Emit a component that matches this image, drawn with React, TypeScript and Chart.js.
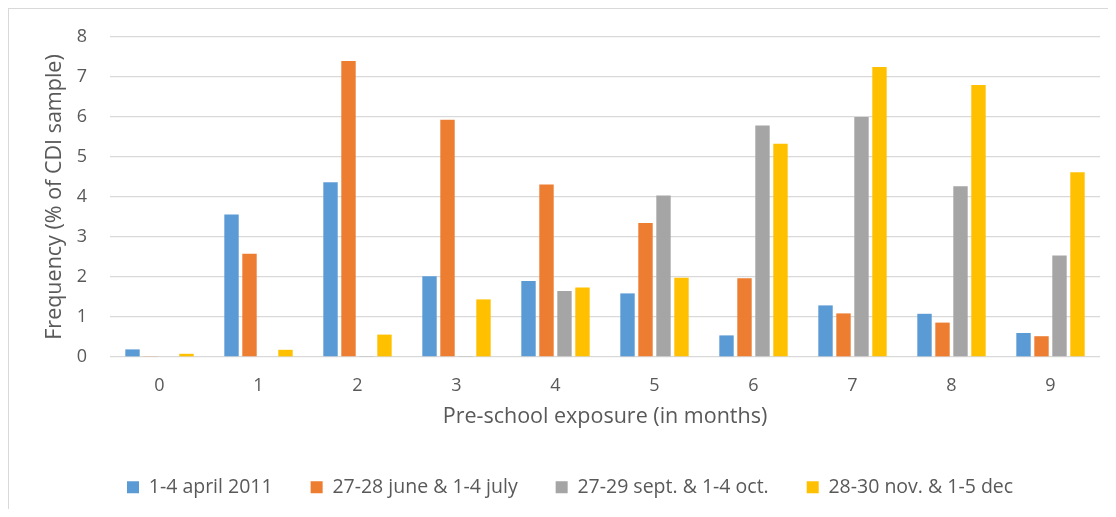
import React, { useEffect, useRef } from "react";
import { Chart, registerables } from "chart.js";

Chart.register(...registerables);

const categories = ["0", "1", "2", "3", "4", "5", "6", "7", "8", "9"];
const april2011 = [0.19, 3.56, 4.37, 2.02, 1.9, 1.59, 0.54, 1.29, 1.08, 0.6];
const juneJuly = [0.02, 2.58, 7.4, 5.93, 4.31, 3.35, 1.97, 1.09, 0.86, 0.52];
const septOct = [0, 0, 0.01, 0.01, 1.65, 4.04, 5.79, 6.0, 4.27, 2.54];
const novDec = [0.08, 0.18, 0.56, 1.44, 1.74, 1.98, 5.33, 7.25, 6.8, 4.62];
const seriesLabels = [
  "1-4 april 2011",
  "27-28 june & 1-4 july",
  "27-29 sept. & 1-4 oct.",
  "28-30 nov. & 1-5 dec",
];
const seriesColors = ["#5B9BD5", "#ED7D31", "#A5A5A5", "#FFC000"];

const FONT = "'Open Sans', sans-serif";
const TEXT = "#595959";

const legendShift = {
  id: "legendShift",
  afterLayout(chart: any) {
    const l = chart.legend;
    if (!l) return;
    const dx = 80;
    l.left += dx;
    l.right += dx;
  },
};

export default function App() {
  const ref = useRef<HTMLCanvasElement | null>(null);
  useEffect(() => {
    if (!ref.current) return;
    const values = [april2011, juneJuly, septOct, novDec];
    const chart = new Chart(ref.current, {
      type: "bar",
      data: {
        labels: categories,
        datasets: values.map((v, i) => ({
          label: seriesLabels[i],
          data: v,
          backgroundColor: seriesColors[i],
          borderWidth: 0,
          categoryPercentage: 0.727,
          barPercentage: 0.8,
        })),
      },
      plugins: [legendShift],
      options: {
        animation: false,
        responsive: false,
        maintainAspectRatio: false,
        layout: { padding: { top: 28, right: 8, bottom: 2, left: 0 } },
        plugins: {
          tooltip: { enabled: false },
          legend: {
            position: "bottom",
            align: "start",
            labels: {
              boxWidth: 12,
              boxHeight: 12,
              padding: 38,
              color: TEXT,
              font: { family: FONT, size: 19.5 },
            },
          },
        },
        scales: {
          x: {
            grid: { display: false },
            border: { display: false },
            ticks: {
              color: TEXT,
              padding: 10.5,
              font: { family: FONT, size: 18 },
            },
            title: {
              display: true,
              text: "Pre-school exposure (in months)",
              color: TEXT,
              font: { family: FONT, size: 21.5 },
              padding: { top: 0, bottom: 9.6 },
            },
            afterFit(scale: any) {
              scale.height = 82.5;
            },
          },
          y: {
            min: 0,
            max: 8,
            grid: { color: "#D9D9D9", lineWidth: 1.3, drawTicks: false },
            border: { display: false },
            ticks: {
              stepSize: 1,
              color: TEXT,
              padding: 23,
              font: { family: FONT, size: 18 },
            },
            title: {
              display: true,
              text: "Frequency (% of CDI sample)",
              color: TEXT,
              font: { family: FONT, size: 21.5 },
              padding: { top: 33, bottom: 0 },
            },
            afterFit(scale: any) {
              scale.width = 101;
              scale.paddingTop = 0;
              scale.paddingBottom = 0;
            },
          },
        },
      },
    });
    return () => chart.destroy();
  }, []);
  return (
    <div
      style={{
        height: 500,
        borderLeft: "1px solid #D9D9D9",
        borderTop: "1px solid #D9D9D9",
        background: "#fff",
      }}
    >
      <canvas ref={ref} width={1099} height={500} style={{ display: "block" }} />
    </div>
  );
}
